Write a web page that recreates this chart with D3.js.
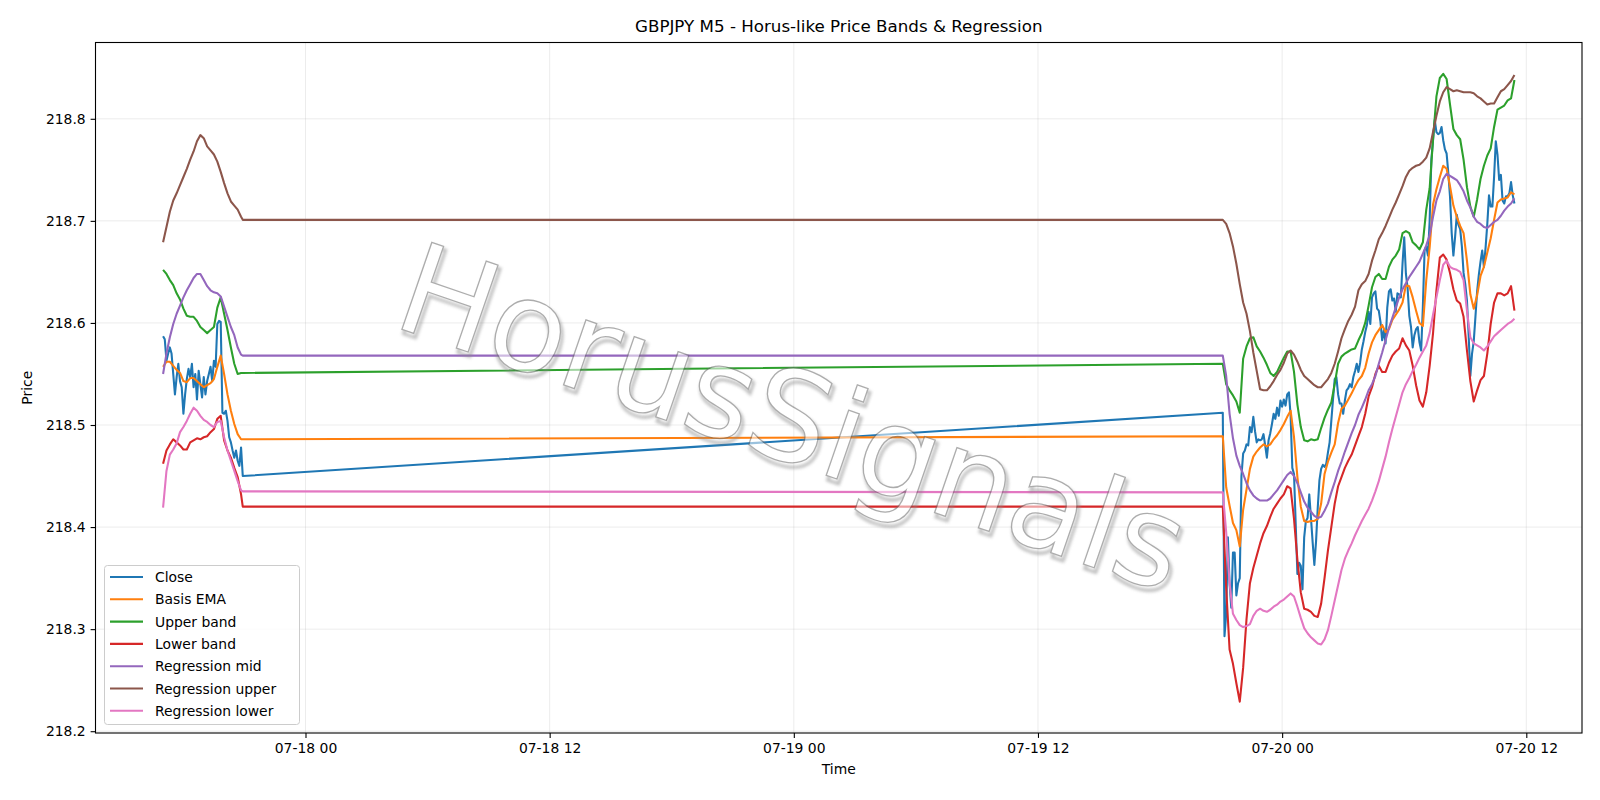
<!DOCTYPE html>
<html><head><meta charset="utf-8">
<script src="https://cdn.jsdelivr.net/npm/d3@7"></script>
<style>
body{margin:0;background:#fff}
svg{display:block}
text{font-family:"DejaVu Sans",sans-serif}
</style>
</head><body>
<svg id="chart" width="1600" height="800"></svg>
<script>
// ---------------- DATA ----------------
const fridayStart = Date.UTC(2026, 6, 17, 17, 0);   // 07-17 17:00
const sundayStart = Date.UTC(2026, 6, 19, 21, 5);   // 07-19 21:05
const closeStepMin = 5;
const indStepMin = 10;
const fridayIndicatorLastMin = 235;                 // 20:55 last Friday bar

const seriesNames = ["Close","Basis EMA","Upper band","Lower band","Regression mid","Regression upper","Regression lower"];
const seriesColors = ["#1f77b4","#ff7f0e","#2ca02c","#d62728","#9467bd","#8c564b","#e377c2"];

const closeFri = [218.587,218.584,218.563,218.570,218.576,218.570,218.550,218.530,218.547,218.560,218.543,218.537,
218.511,218.530,218.545,218.555,218.547,218.560,218.537,218.550,218.525,218.553,218.540,218.527,
218.547,218.530,218.543,218.550,218.557,218.543,218.563,218.557,218.599,218.602,218.601,218.512,
218.511,218.514,218.504,218.488,218.483,218.475,218.468,218.475,218.465,218.460,218.478,218.450];

const closeSun = [218.512,218.293,218.315,218.390,218.345,218.321,218.375,218.375,218.333,218.345,218.350,218.450,
218.472,218.475,218.481,218.480,218.498,218.493,218.508,218.494,218.483,218.486,218.485,218.486,
218.491,218.480,218.468,218.485,218.492,218.501,218.511,218.506,218.517,218.509,218.524,218.518,
218.525,218.519,218.530,218.532,218.509,218.458,218.452,218.403,218.354,218.365,218.362,218.339,
218.390,218.406,218.409,218.432,218.409,218.385,218.363,218.386,218.419,218.446,218.457,218.461,
218.459,218.462,218.473,218.483,218.504,218.525,218.545,218.547,218.530,218.521,218.521,218.511,
218.524,218.534,218.536,218.540,218.537,218.547,218.553,218.560,218.552,218.561,218.574,218.582,
218.591,218.598,218.611,218.599,218.625,218.629,218.631,218.614,218.612,218.601,218.583,218.593,
218.580,218.615,218.631,218.633,218.622,218.624,218.611,218.629,218.628,218.625,218.658,218.684,
218.648,218.634,218.607,218.596,218.576,218.588,218.594,218.596,218.581,218.573,218.616,218.671,
218.675,218.666,218.700,218.760,218.779,218.799,218.787,218.785,218.786,218.792,218.779,218.770,
218.766,218.747,218.724,218.688,218.666,218.684,218.706,218.696,218.692,218.675,218.649,218.638,
218.622,218.588,218.548,218.570,218.582,218.606,218.631,218.647,218.660,218.671,218.655,218.674,
218.697,218.725,218.714,218.714,218.743,218.778,218.765,218.740,218.745,218.720,218.717,218.724,
218.724,218.727,218.738,218.725,218.717];

const basisFri = [218.557,218.562,218.562,218.558,218.554,218.551,218.543,218.542,218.546,218.546,218.543,218.540,
218.537,218.539,218.541,218.545,218.557,218.568,218.550,218.530,218.514,218.501,218.491,218.486,218.486];
const upperFri = [218.652,218.648,218.642,218.637,218.629,218.623,218.614,218.607,218.606,218.606,218.602,218.596,
218.593,218.590,218.593,218.596,218.615,218.625,218.609,218.593,218.576,218.560,218.550,218.551,218.551];
const lowerFri = [218.462,218.475,218.481,218.486,218.483,218.480,218.476,218.476,218.483,218.485,218.487,218.486,
218.488,218.489,218.493,218.496,218.506,218.509,218.485,218.475,218.468,218.458,218.449,218.432,218.420];
const regMidFri = [218.550,218.570,218.586,218.599,218.609,218.617,218.625,218.632,218.638,218.644,218.648,218.648,
218.642,218.636,218.632,218.630,218.629,218.626,218.616,218.606,218.596,218.588,218.576,218.569,218.568];
const regUpFri = [218.679,218.694,218.709,218.720,218.727,218.735,218.743,218.751,218.760,218.768,218.778,218.784,
218.781,218.773,218.769,218.765,218.758,218.748,218.737,218.727,218.719,218.715,218.711,218.704,218.701];
const regLoFri = [218.419,218.455,218.471,218.476,218.482,218.493,218.498,218.504,218.511,218.517,218.514,218.509,
218.505,218.503,218.500,218.498,218.503,218.504,218.488,218.475,218.465,218.455,218.445,218.436,218.435];

const basisSun = [218.489,218.439,218.421,218.404,218.397,218.381,218.417,218.437,218.457,218.469,218.474,218.478,
218.481,218.479,218.481,218.486,218.490,218.495,218.501,218.508,218.514,218.488,218.449,218.420,
218.406,218.405,218.406,218.406,218.408,218.423,218.452,218.464,218.473,218.481,218.502,218.516,
218.519,218.525,218.531,218.538,218.544,218.548,218.556,218.570,218.581,218.588,218.593,218.598,
218.591,218.594,218.603,218.608,218.613,218.620,218.637,218.636,218.625,218.612,218.600,218.597,
218.642,218.674,218.716,218.731,218.743,218.754,218.751,218.734,218.715,218.704,218.695,218.688,
218.661,218.628,218.614,218.627,218.646,218.655,218.669,218.683,218.701,218.718,218.721,218.722,
218.723,218.728,218.726];
const upperSun = [218.560,218.540,218.534,218.529,218.523,218.512,218.565,218.577,218.585,218.586,218.577,218.572,
218.566,218.559,218.551,218.548,218.552,218.559,218.566,218.572,218.572,218.552,218.520,218.498,
218.485,218.484,218.486,218.485,218.486,218.497,218.507,218.515,218.522,218.540,218.560,218.567,
218.570,218.572,218.574,218.575,218.583,218.590,218.600,218.617,218.635,218.645,218.648,218.643,
218.643,218.655,218.662,218.666,218.672,218.688,218.690,218.688,218.679,218.676,218.672,218.679,
218.711,218.732,218.780,218.822,218.840,218.844,218.839,218.814,218.790,218.784,218.780,218.760,
218.733,218.714,218.704,218.721,218.741,218.754,218.764,218.771,218.792,218.809,218.811,218.813,
218.818,218.820,218.838];
const lowerSun = [218.420,218.340,218.280,218.266,218.247,218.229,218.262,218.310,218.345,218.360,218.372,218.384,
218.394,218.401,218.410,218.418,218.423,218.428,218.432,218.440,218.438,218.408,218.368,218.336,
218.320,218.319,218.317,218.313,218.312,218.325,218.350,218.377,218.400,218.423,218.440,218.449,
218.458,218.465,218.471,218.480,218.489,218.498,218.511,218.528,218.537,218.550,218.558,218.552,
218.552,218.561,218.568,218.572,218.575,218.585,218.578,218.573,218.558,218.539,218.524,218.518,
218.532,218.558,218.590,218.632,218.664,218.667,218.662,218.649,218.633,218.622,218.619,218.606,
218.573,218.543,218.523,218.534,218.544,218.548,218.570,218.599,218.620,218.629,218.629,218.627,
218.629,218.636,218.612];
const regMidSun = [218.568,218.548,218.511,218.487,218.470,218.460,218.452,218.443,218.436,218.431,218.428,218.426,
218.426,218.426,218.428,218.432,218.436,218.441,218.446,218.451,218.454,218.450,218.443,218.434,
218.425,218.419,218.415,218.411,218.409,218.410,218.416,218.423,218.434,218.444,218.455,218.464,
218.474,218.483,218.492,218.500,218.510,218.517,218.525,218.534,218.540,218.548,218.560,218.571,
218.583,218.595,218.605,218.615,218.625,218.633,218.639,218.645,218.650,218.655,218.660,218.668,
218.676,218.686,218.704,218.720,218.729,218.741,218.746,218.744,218.742,218.740,218.735,218.729,
218.720,218.713,218.704,218.699,218.697,218.694,218.693,218.696,218.699,218.701,218.705,218.710,
218.714,218.717,218.722];
const regUpSun = [218.701,218.697,218.688,218.675,218.658,218.638,218.620,218.609,218.592,218.571,218.553,218.535,
218.534,218.534,218.538,218.543,218.549,218.554,218.561,218.570,218.573,218.569,218.562,218.554,
218.548,218.545,218.542,218.539,218.537,218.537,218.541,218.545,218.551,218.560,218.572,218.585,
218.594,218.602,218.608,218.616,218.632,218.638,218.641,218.648,218.661,218.671,218.682,218.688,
218.695,218.703,218.711,218.718,218.726,218.734,218.743,218.749,218.752,218.754,218.755,218.758,
218.762,218.771,218.787,218.803,218.817,218.826,218.831,218.829,218.827,218.828,218.827,218.826,
218.826,218.826,218.825,218.822,218.820,218.817,218.814,218.815,218.815,218.821,218.827,218.829,
218.833,218.837,218.843];
const regLoSun = [218.434,218.395,218.345,218.315,218.309,218.304,218.302,218.303,218.305,218.313,218.318,218.320,
218.318,218.317,218.319,218.322,218.324,218.327,218.329,218.332,218.335,218.332,218.322,218.311,
218.301,218.296,218.292,218.289,218.286,218.285,218.290,218.299,218.313,218.328,218.343,218.358,
218.369,218.377,218.384,218.392,218.399,218.406,218.412,218.418,218.426,218.435,218.445,218.457,
218.469,218.483,218.496,218.508,218.520,218.532,218.540,218.546,218.553,218.559,218.566,218.572,
218.578,218.590,218.608,218.625,218.642,218.657,218.661,218.655,218.653,218.652,218.650,218.642,
218.612,218.586,218.580,218.578,218.576,218.573,218.577,218.582,218.587,218.590,218.593,218.596,
218.599,218.601,218.604];

const yTicks = [218.2,218.3,218.4,218.5,218.6,218.7,218.8];
const xTickHours = 12;
const titleText = "GBPJPY M5 - Horus-like Price Bands & Regression";
const watermarkText = "HorusSignals";

// ---------------- BUILD ----------------
const MIN = 60000;
function closeSeries(fri, sun){
  const a = fri.map((v,i)=>({t:new Date(fridayStart + i*closeStepMin*MIN), v}));
  const b = sun.map((v,i)=>({t:new Date(sundayStart + i*closeStepMin*MIN), v}));
  return a.concat(b);
}
function indSeries(fri, sun){
  const a = fri.map((v,i)=>({t:new Date(fridayStart + (i < fri.length-1 ? i*indStepMin : fridayIndicatorLastMin)*MIN), v}));
  const b = sun.map((v,i)=>({t:new Date(sundayStart + i*indStepMin*MIN), v}));
  return a.concat(b);
}
const series = [
  closeSeries(closeFri, closeSun),
  indSeries(basisFri, basisSun),
  indSeries(upperFri, upperSun),
  indSeries(lowerFri, lowerSun),
  indSeries(regMidFri, regMidSun),
  indSeries(regUpFri, regUpSun),
  indSeries(regLoFri, regLoSun)
];

const L = 95.5, R = 1582, T = 42.5, B = 733;
const svg = d3.select("#chart");

const all = series.flat();
const tExt = d3.extent(all, d=>+d.t);
const vExt = d3.extent(all, d=>d.v);
const tPad = (tExt[1]-tExt[0])*0.05, vPad = (vExt[1]-vExt[0])*0.05;
const x = d3.scaleUtc().domain([new Date(tExt[0]-tPad), new Date(tExt[1]+tPad)]).range([L,R]);
const y = d3.scaleLinear().domain([vExt[0]-vPad, vExt[1]+vPad]).range([B,T]);

const xTicks = d3.utcHour.every(xTickHours).range(x.domain()[0], x.domain()[1]).filter(d=>d>x.domain()[0]);
const fmt = d3.utcFormat("%m-%d %H");

// grid
const grid = svg.append("g");
grid.selectAll("line.gx").data(xTicks).join("line")
  .attr("x1",d=>x(d)).attr("x2",d=>x(d)).attr("y1",T).attr("y2",B)
  .attr("stroke","#b0b0b0").attr("stroke-opacity",0.3).attr("stroke-width",0.8);
grid.selectAll("line.gy").data(yTicks).join("line")
  .attr("y1",d=>y(d)).attr("y2",d=>y(d)).attr("x1",L).attr("x2",R)
  .attr("stroke","#b0b0b0").attr("stroke-opacity",0.3).attr("stroke-width",0.8);

// lines
const line = d3.line().x(d=>x(d.t)).y(d=>y(d.v));
const plot = svg.append("g");
series.forEach((s,i)=>{
  plot.append("path").datum(s).attr("d",line)
    .attr("fill","none").attr("stroke",seriesColors[i]).attr("stroke-width",2.08)
    .attr("stroke-linejoin","round").attr("stroke-linecap","butt");
});

// axes
const xAxis = d3.axisBottom(x).tickValues(xTicks).tickFormat(fmt).tickSize(4.9).tickPadding(4.9);
const yAxis = d3.axisLeft(y).tickValues(yTicks).tickFormat(d3.format(".1f")).tickSize(4.9).tickPadding(4.9);
const gx = svg.append("g").attr("transform",`translate(0,${B})`).call(xAxis);
const gy = svg.append("g").attr("transform",`translate(${L},0)`).call(yAxis);
[gx,gy].forEach(g=>{
  g.select(".domain").remove();
  g.selectAll(".tick line").attr("stroke","#000").attr("stroke-width",1.1);
  g.selectAll(".tick text").attr("font-size","13.9px").attr("font-family","DejaVu Sans").attr("fill","#000");
});
svg.append("rect").attr("x",L).attr("y",T).attr("width",R-L).attr("height",B-T)
  .attr("fill","none").attr("stroke","#000").attr("stroke-width",1.1);

// labels
svg.append("text").attr("x",(L+R)/2).attr("y",32).attr("text-anchor","middle")
  .attr("font-size","16.7px").attr("fill","#000").text(titleText);
svg.append("text").attr("x",(L+R)/2).attr("y",774).attr("text-anchor","middle")
  .attr("font-size","13.9px").attr("fill","#000").text("Time");
svg.append("text").attr("transform",`translate(32,${(T+B)/2}) rotate(-90)`).attr("text-anchor","middle")
  .attr("font-size","13.9px").attr("fill","#000").text("Price");

// legend
const lg = svg.append("g");
lg.append("rect").attr("x",104.5).attr("y",565.5).attr("width",195).attr("height",159).attr("rx",3)
  .attr("fill","#fff").attr("fill-opacity",0.8).attr("stroke","#cccccc").attr("stroke-width",1);
seriesNames.forEach((n,i)=>{
  const cy = 577 + i*22.3;
  lg.append("line").attr("x1",110).attr("x2",143).attr("y1",cy).attr("y2",cy)
    .attr("stroke",seriesColors[i]).attr("stroke-width",2.08);
  lg.append("text").attr("x",155).attr("y",cy+5).attr("font-size","13.9px").attr("fill","#000").text(n);
});

// watermark: white glyphs with thin grey outline and a soft shadow, semi-transparent as a whole
const defs = svg.append("defs");
defs.append("filter").attr("id","wmBlur").attr("x","-10%").attr("y","-10%").attr("width","120%").attr("height","120%")
  .append("feGaussianBlur").attr("stdDeviation",1.6);
const wm = svg.append("g").attr("opacity",0.55)
  .attr("transform","translate(793,418) rotate(19)");
const wmAttrs = sel => sel.attr("text-anchor","middle").attr("dominant-baseline","central")
  .attr("font-size","126px").attr("font-family","DejaVu Sans").text(watermarkText);
wm.append("text").call(wmAttrs).attr("x",3).attr("y",3)
  .style("fill","none").style("stroke","#8a8a8a").style("stroke-width",3.2).attr("filter","url(#wmBlur)");
wm.append("text").call(wmAttrs)
  .style("fill","#ffffff").style("stroke","#6a6a6a").style("stroke-width",1.3);
</script>
</body></html>
